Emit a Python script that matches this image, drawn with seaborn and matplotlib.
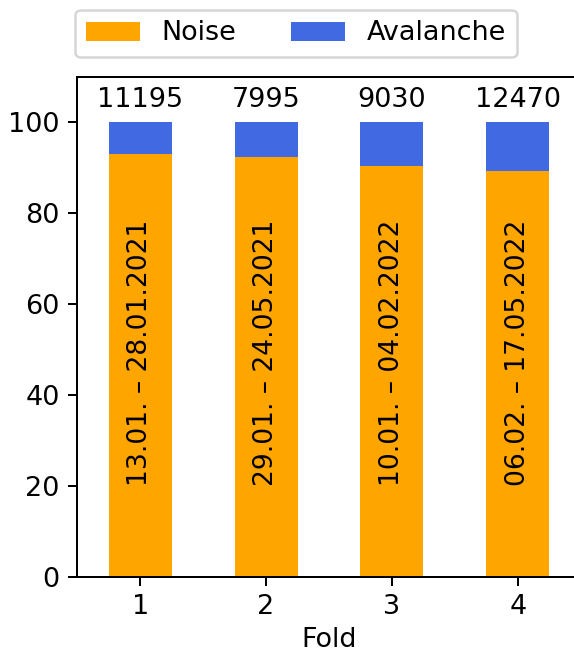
import matplotlib
matplotlib.use("Agg")
import matplotlib.pyplot as plt
from matplotlib.patches import Patch
import seaborn as sns
import pandas as pd

# Per-fold class shares (percent) and sample counts
folds = ["1", "2", "3", "4"]
noise_pct = [93.1, 92.3, 90.3, 89.2]
total_pct = [100, 100, 100, 100]
counts = [11195, 7995, 9030, 12470]
periods = [
    "13.01. – 28.01.2021",
    "29.01. – 24.05.2021",
    "10.01. – 04.02.2022",
    "06.02. – 17.05.2022",
]

noise_color = "orange"
aval_color = "royalblue"

plt.rcParams["font.size"] = 10.8

df = pd.DataFrame({"Fold": folds, "Noise": noise_pct, "Total": total_pct})

W, H, DPI = 574, 651, 180
fig = plt.figure(figsize=(W / DPI, H / DPI), dpi=DPI)
ax_left_px, ax_right_px = 77.2, 580.8
ax = fig.add_axes([ax_left_px / W, 0.1141, (ax_right_px - ax_left_px) / W, 0.7681])

# Stacked look: full-height avalanche bar underneath, noise share on top
sns.barplot(data=df, x="Fold", y="Total", color=aval_color, width=0.5,
            saturation=1, errorbar=None, ax=ax)
sns.barplot(data=df, x="Fold", y="Noise", color=noise_color, width=0.5,
            saturation=1, errorbar=None, ax=ax)

for i, (n, period) in enumerate(zip(counts, periods)):
    ax.text(i, 102, f"{n}", ha="center", va="bottom")
    ax.text(i, 20, period, rotation=90, ha="center", va="bottom", fontsize=10.6)

ax.set_xlim(-0.5, 3.5)
ax.set_ylim(0, 110)
ax.set_yticks([0, 20, 40, 60, 80, 100])
ax.set_xlabel("Fold", labelpad=2.8)
ax.set_ylabel("")

handles = [Patch(facecolor=noise_color, label="Noise"),
           Patch(facecolor=aval_color, label="Avalanche")]
fig.legend(handles=handles, loc="center", ncol=2,
           bbox_to_anchor=(296 / W, 1 - 33.5 / H))

fig.savefig("out.png", dpi=DPI)
